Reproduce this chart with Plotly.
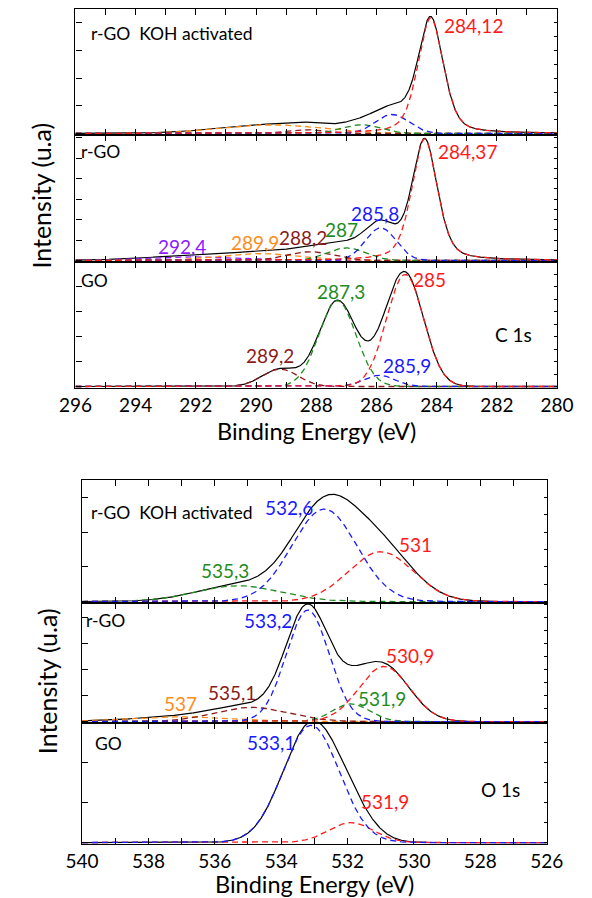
import numpy as np
import plotly.graph_objects as go

# ---------------- DATA ----------------
# Component identity keys (colour roles are assigned in the style section)
# C 1s, r-GO KOH activated
c1s_koh_comp   = ["p1", "p2", "p3", "p4", "p5"]
c1s_koh_center = [284.20, 285.48, 286.50, 288.30, 289.50]
c1s_koh_height = [0.93, 0.153, 0.07, 0.03, 0.07]
c1s_koh_fwhm   = [1.00, 1.30, 1.50, 1.50, 4.00]
c1s_koh_lor    = [0.40, 0.0, 0.0, 0.0, 0.0]
c1s_koh_labels = ["284,12"]

# C 1s, r-GO
c1s_rgo_comp   = ["p1", "p2", "p3", "p4", "p5", "p6"]
c1s_rgo_center = [284.40, 285.86, 287.00, 288.20, 289.90, 292.40]
c1s_rgo_height = [0.97, 0.26, 0.10, 0.07, 0.055, 0.03]
c1s_rgo_fwhm   = [1.00, 1.20, 1.50, 1.80, 3.00, 3.50]
c1s_rgo_lor    = [0.40, 0.0, 0.0, 0.0, 0.0, 0.0]
c1s_rgo_labels = ["284,37", "285,8", "287", "288,2", "289,9", "292,4"]

# C 1s, GO
c1s_go_comp   = ["p1", "p2", "p3", "p4"]
c1s_go_center = [285.05, 285.90, 287.30, 289.20]
c1s_go_height = [0.90, 0.09, 0.69, 0.14]
c1s_go_fwhm   = [1.45, 1.20, 1.45, 1.40]
c1s_go_lor    = [0.0, 0.0, 0.0, 0.0]
c1s_go_labels = ["285", "285,9", "287,3", "289,2"]

# O 1s, r-GO KOH activated
o1s_koh_comp   = ["p2", "p1", "p3"]
o1s_koh_center = [532.70, 531.00, 535.30]
o1s_koh_height = [0.76, 0.41, 0.13]
o1s_koh_fwhm   = [2.30, 2.30, 3.00]
o1s_koh_lor    = [0.0, 0.0, 0.0]
o1s_koh_labels = ["532,6", "531", "535,3"]

# O 1s, r-GO
o1s_rgo_comp   = ["p2", "p1", "p3", "p4", "p5"]
o1s_rgo_center = [533.20, 530.90, 531.90, 534.90, 537.00]
o1s_rgo_height = [0.94, 0.465, 0.15, 0.12, 0.04]
o1s_rgo_fwhm   = [1.52, 1.80, 1.30, 2.60, 3.50]
o1s_rgo_lor    = [0.0, 0.0, 0.0, 0.0, 0.0]
o1s_rgo_labels = ["533,2", "530,9", "531,9", "535,1", "537"]

# O 1s, GO
o1s_go_comp   = ["p2", "p1"]
o1s_go_center = [533.10, 531.90]
o1s_go_height = [0.98, 0.167]
o1s_go_fwhm   = [2.00, 1.60]
o1s_go_lor    = [0.0, 0.0]
o1s_go_labels = ["533,1", "531,9"]

sample_names = ["r-GO\u00a0 KOH activated", "r-GO", "GO"]
core_levels = ["C 1s", "O 1s"]
c_ticks = [296, 294, 292, 290, 288, 286, 284, 282, 280]
o_ticks = [540, 538, 536, 534, 532, 530, 528, 526]

# ---------------- STYLE ----------------
COL = {"p1": "#ff1a1a", "p2": "#1a1aff", "p3": "#1e8c1e", "p4": "#8b1a1a",
       "p5": "#ff8c1a", "p6": "#8c1aff"}
FONT = "Lato, 'Open Sans', sans-serif"
W, H = 592, 898


def fx(p):
    return p / W


def fy(p):
    return 1 - p / H


def pvoigt(E, c, h, w, eta):
    u = (E - c) / (w / 2.0)
    return h * (eta / (1 + u ** 2) + (1 - eta) * np.exp(-np.log(2) * u ** 2))


E_C = np.linspace(c_ticks[0], c_ticks[-1], 1601)
E_O = np.linspace(o_ticks[0], o_ticks[-1], 1401)

panels = [
    dict(E=E_C, comp=c1s_koh_comp, c=c1s_koh_center, h=c1s_koh_height, w=c1s_koh_fwhm, l=c1s_koh_lor,
         xd=(62, 573), yd=(9, 135), dt=0.222, ticks=c_ticks),
    dict(E=E_C, comp=c1s_rgo_comp, c=c1s_rgo_center, h=c1s_rgo_height, w=c1s_rgo_fwhm, l=c1s_rgo_lor,
         xd=(62, 573), yd=(135, 262), dt=0.163, ticks=c_ticks),
    dict(E=E_C, comp=c1s_go_comp, c=c1s_go_center, h=c1s_go_height, w=c1s_go_fwhm, l=c1s_go_lor,
         xd=(62, 573), yd=(262, 388), dt=0.2, ticks=c_ticks),
    dict(E=E_O, comp=o1s_koh_comp, c=o1s_koh_center, h=o1s_koh_height, w=o1s_koh_fwhm, l=o1s_koh_lor,
         xd=(69, 562), yd=(480, 603), dt=0.285, ticks=o_ticks),
    dict(E=E_O, comp=o1s_rgo_comp, c=o1s_rgo_center, h=o1s_rgo_height, w=o1s_rgo_fwhm, l=o1s_rgo_lor,
         xd=(69, 562), yd=(603, 723), dt=0.22, ticks=o_ticks),
    dict(E=E_O, comp=o1s_go_comp, c=o1s_go_center, h=o1s_go_height, w=o1s_go_fwhm, l=o1s_go_lor,
         xd=(69, 562), yd=(723, 844), dt=0.335, ticks=o_ticks),
]

fig = go.Figure()
layout = dict(width=W, height=H, autosize=False, margin=dict(l=0, r=0, t=0, b=0),
              paper_bgcolor="white", plot_bgcolor="white", showlegend=False,
              font=dict(family=FONT, color="black"))
YR = [-0.012, 1.0]

for i, p in enumerate(panels, start=1):
    xa, ya = f"x{i}", f"y{i}"
    E = p["E"]
    comps = [pvoigt(E, c, h, w, l) for c, h, w, l in zip(p["c"], p["h"], p["w"], p["l"])]
    total = np.sum(comps, axis=0)
    fig.add_trace(go.Scatter(x=E, y=total, mode="lines", line=dict(color="black", width=1.2),
                             xaxis=xa, yaxis=ya, hoverinfo="skip"))
    for key, yv in reversed(list(zip(p["comp"], comps))):
        fig.add_trace(go.Scatter(x=E, y=yv, mode="lines",
                                 line=dict(color=COL[key], width=1.3, dash="6px,4px"),
                                 xaxis=xa, yaxis=ya, hoverinfo="skip"))
    # invisible trace for the right-hand tick axis
    fig.add_trace(go.Scatter(x=[None], y=[None], mode="lines", xaxis=xa, yaxis=f"y{i+6}",
                             hoverinfo="skip"))
    bottom = i in (3, 6)
    layout[f"xaxis{i}"] = dict(
        domain=[fx(p["xd"][0]), fx(p["xd"][1])], anchor=ya,
        range=[p["ticks"][0], p["ticks"][-1]], tickvals=p["ticks"],
        ticks="inside", ticklen=6, tickwidth=1.2, tickcolor="black",
        minor=dict(dtick=1, ticks="inside", ticklen=6, tickwidth=1.2, tickcolor="black"),
        showline=True, linecolor="black", linewidth=1.4, mirror="allticks",
        showgrid=False, zeroline=False, showticklabels=bottom,
        tickfont=dict(family=FONT, size=19, color="black"), ticklabelstandoff=0)
    layout[f"yaxis{i}"] = dict(
        domain=[fy(p["yd"][1]), fy(p["yd"][0])], anchor=xa, range=YR,
        tick0=0, dtick=p["dt"], ticks="inside", ticklen=6, tickwidth=1.2, tickcolor="black",
        showline=True, linecolor="black", linewidth=1.4, mirror=True,
        showgrid=False, zeroline=False, showticklabels=False)
    layout[f"yaxis{i+6}"] = dict(
        overlaying=ya, side="right", anchor=xa, range=YR,
        tick0=0, dtick=p["dt"] / 2, ticks="inside", ticklen=3, tickwidth=1.0, tickcolor="black",
        showline=False, showgrid=False, zeroline=False, showticklabels=False)

fig.update_layout(**layout)

# ---------------- ANNOTATIONS ----------------
ann = []


def label(panel, text, x, y, color="black", xanchor="center", size=19):
    ann.append(dict(xref=f"x{panel}", yref=f"y{panel}", x=x, y=y, text=text, showarrow=False,
                    xanchor=xanchor, yanchor="middle", borderpad=0,
                    font=dict(family=FONT, size=size, color=color)))


# sample names
label(1, sample_names[0], 295.50, 0.80, xanchor="left", size=17.5)
label(2, sample_names[1], 295.85, 0.87, xanchor="left", size=17.5)
label(3, sample_names[2], 295.85, 0.855, xanchor="left", size=17.5)
label(4, sample_names[0], 539.76, 0.73, xanchor="left", size=17.5)
label(5, sample_names[1], 539.90, 0.85, xanchor="left", size=17.5)
label(6, sample_names[2], 539.65, 0.83, xanchor="left", size=17.5)
label(3, core_levels[0], 281.46, 0.42)
label(6, core_levels[1], 527.38, 0.44)

# peak labels
label(1, c1s_koh_labels[0], 283.80, 0.87, COL["p1"], xanchor="left")
for t, x, y, k in zip(c1s_rgo_labels, [283.98, 286.05, 287.17, 288.45, 290.02, 292.45],
                      [0.87, 0.378, 0.247, 0.18, 0.142, 0.115], ["p1", "p2", "p3", "p4", "p5", "p6"]):
    label(2, t, x, y, COL[k], xanchor="left" if k == "p1" else "center")
for t, x, y, k in zip(c1s_go_labels, [284.23, 285.0, 287.17, 289.54],
                      [0.857, 0.169, 0.764, 0.25], ["p1", "p2", "p3", "p4"]):
    label(3, t, x, y, COL[k])
for t, x, y, k in zip(o1s_koh_labels, [533.77, 529.96, 535.69],
                      [0.77, 0.47, 0.254], ["p2", "p1", "p3"]):
    label(4, t, x, y, COL[k])
for t, x, y, k in zip(o1s_rgo_labels, [534.41, 530.13, 530.97, 535.49, 537.04],
                      [0.85, 0.554, 0.198, 0.245, 0.149], ["p2", "p1", "p3", "p4", "p5"]):
    label(5, t, x, y, COL[k])
for t, x, y, k in zip(o1s_go_labels, [534.30, 530.86], [0.84, 0.34], ["p2", "p1"]):
    label(6, t, x, y, COL[k])

# axis titles
for xc, yc in [(317.5, 431), (315.5, 884)]:
    ann.append(dict(xref="paper", yref="paper", x=fx(xc), y=fy(yc), text="Binding Energy (eV)",
                    showarrow=False, xanchor="center", yanchor="middle", borderpad=0,
                    font=dict(family=FONT, size=23.5, color="black")))
for xc, yc in [(25, 196), (32, 681)]:
    ann.append(dict(xref="paper", yref="paper", x=fx(xc), y=fy(yc), text="Intensity (u.a)",
                    showarrow=False, xanchor="center", yanchor="middle", textangle=-90,
                    borderpad=0, font=dict(family=FONT, size=25, color="black")))

fig.update_layout(annotations=ann)
fig.write_html("out.html")
